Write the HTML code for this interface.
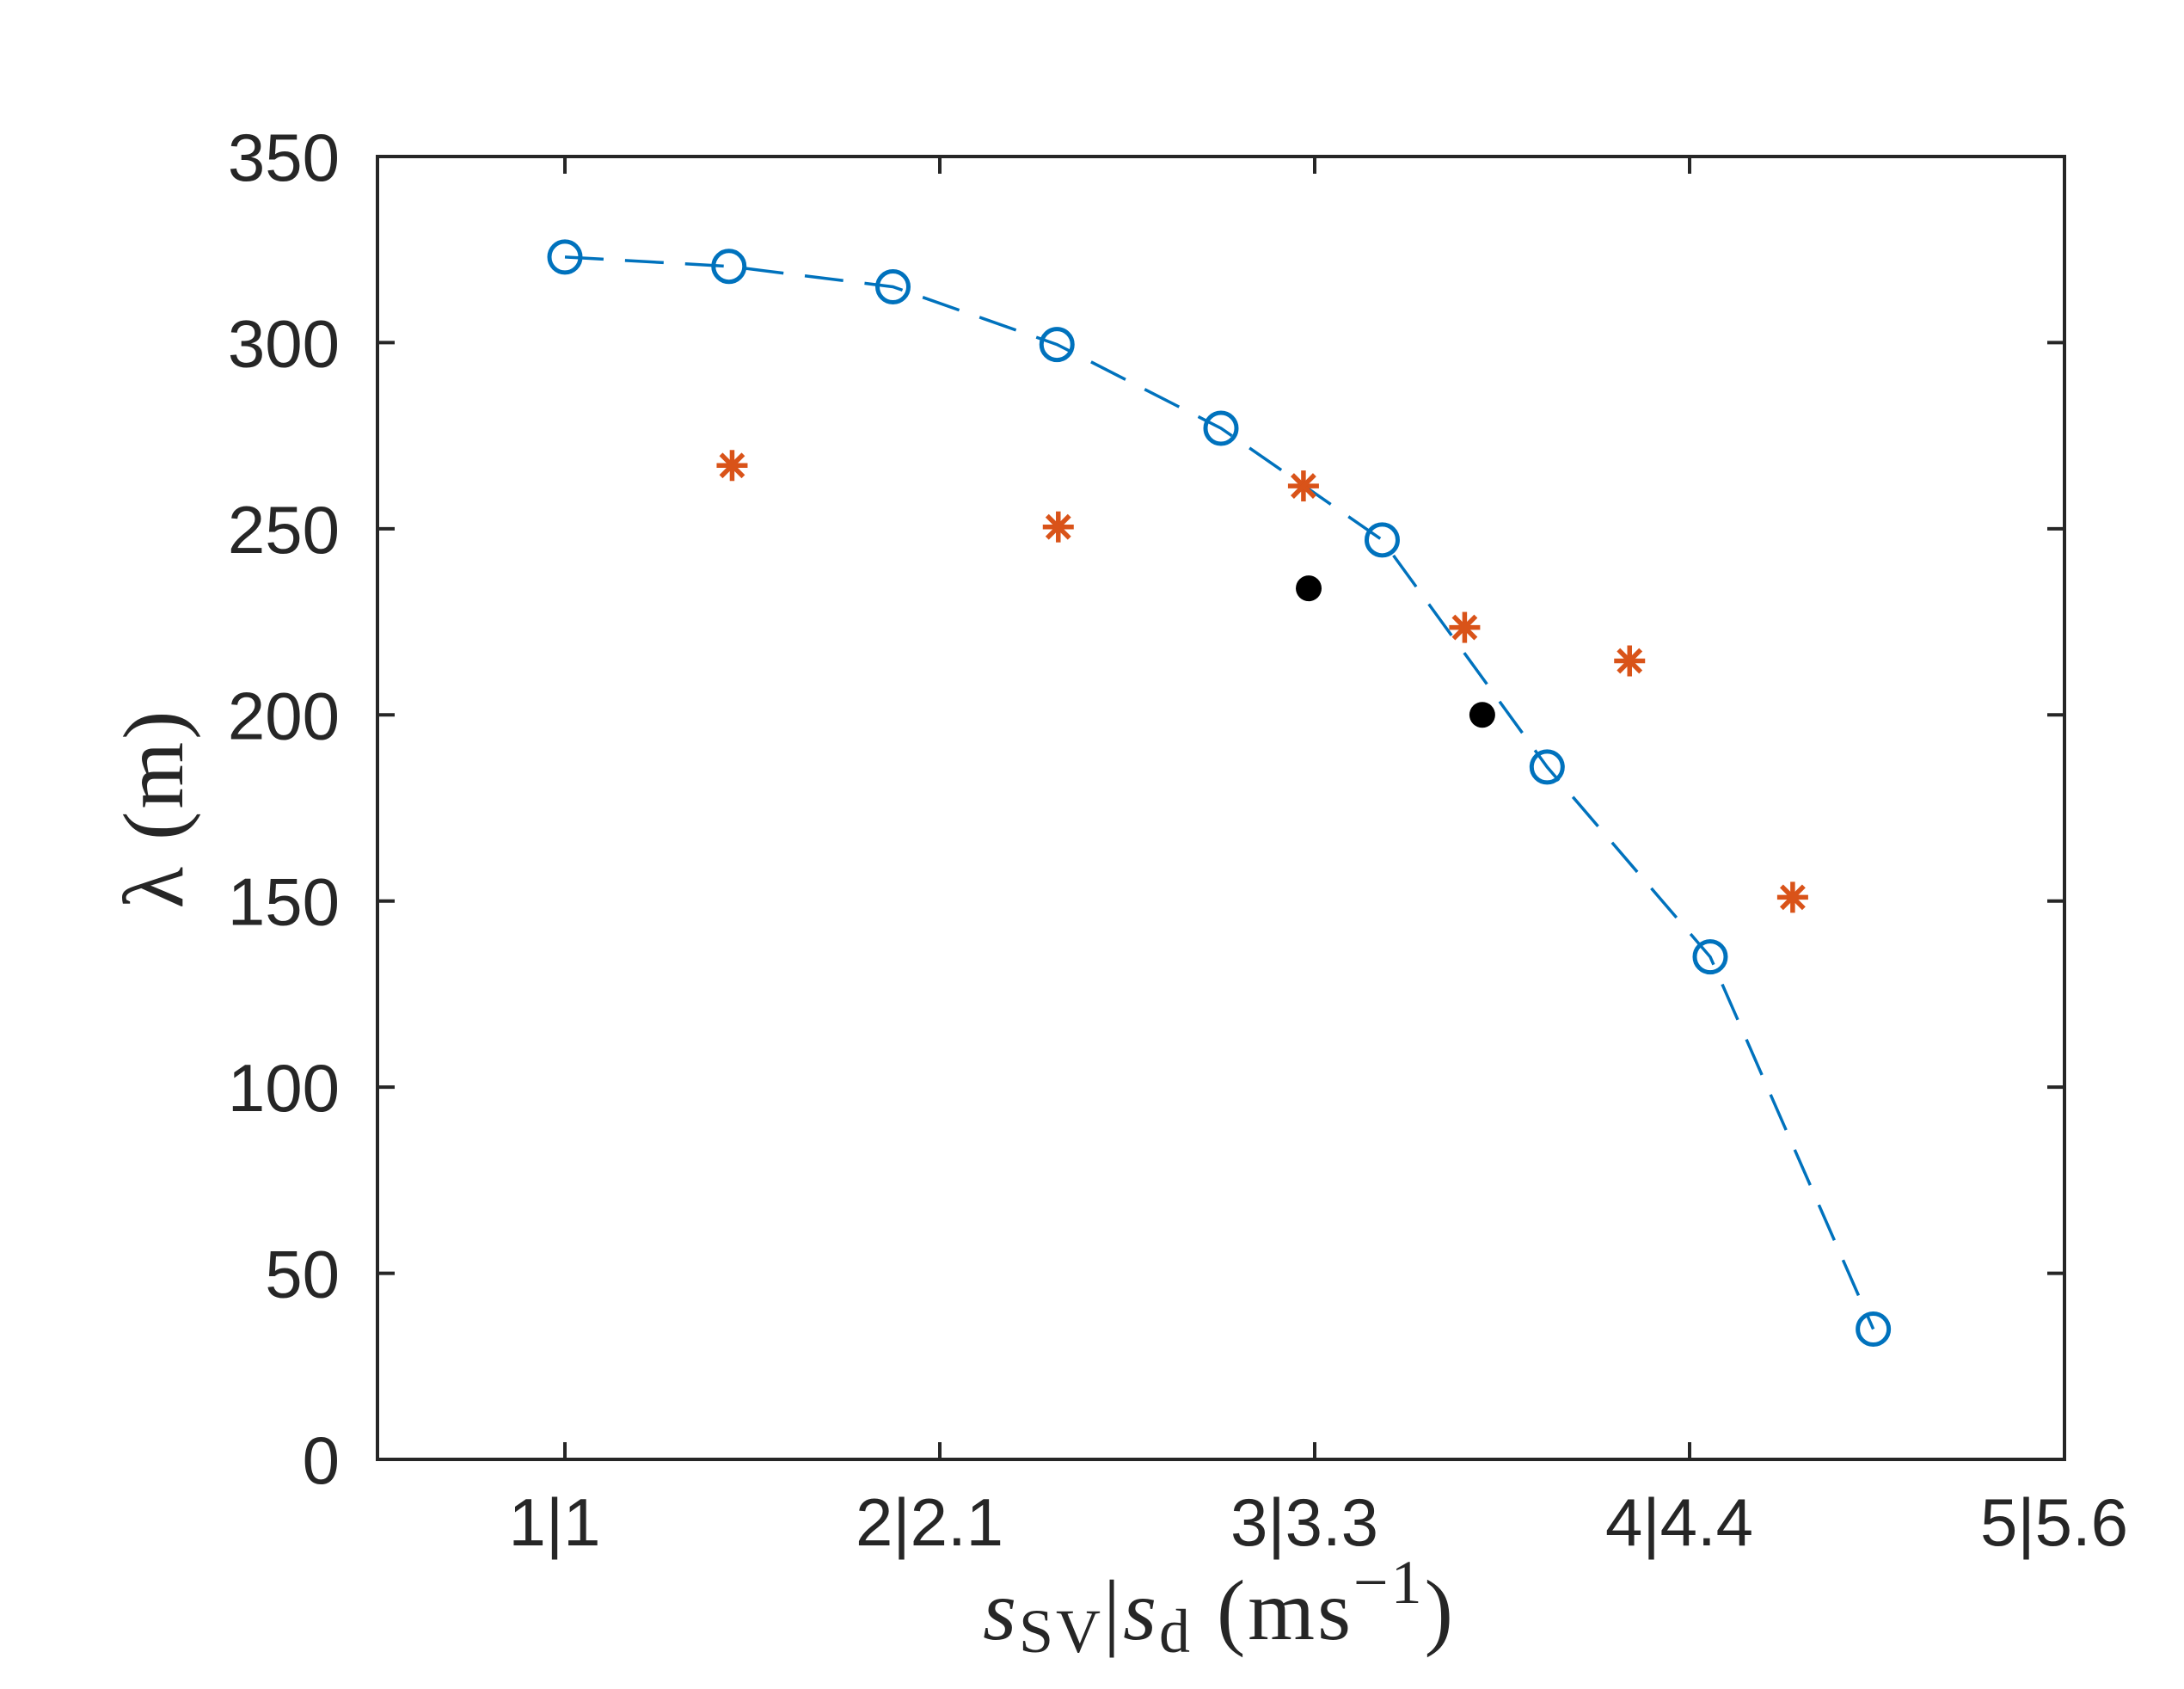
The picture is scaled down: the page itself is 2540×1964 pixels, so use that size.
<!DOCTYPE html>
<html><head><meta charset="utf-8"><style>
html,body{margin:0;padding:0;background:#fff;}
svg{display:block;}
</style></head><body>
<svg id="chart" width="2540" height="1964" xmlns="http://www.w3.org/2000/svg">
<rect x="0" y="0" width="2540" height="1964" fill="#fff"/>
<g id="grid"></g>
<g id="marks"></g>
<rect x="439" y="182" width="1962" height="1515" fill="none" stroke="#262626" stroke-width="4"/>
<text x="1418" y="1906" text-anchor="middle" font-family="'Liberation Serif', serif" font-size="100" letter-spacing="3" fill="#262626"><tspan font-style="italic">s</tspan><tspan font-size="72" dy="15">SV</tspan><tspan dy="-15">|</tspan><tspan font-style="italic">s</tspan><tspan font-size="72" dy="15">d</tspan><tspan dy="-15">  (ms</tspan><tspan font-size="72" dy="-42">−1</tspan><tspan dy="42">)</tspan></text>
<text transform="translate(212,940) rotate(-90)" text-anchor="middle" font-family="'Liberation Serif', serif" font-size="100" letter-spacing="3" fill="#262626">λ  (m)</text>
<script>
const xTicks = [1, 2, 3, 4, 5];
const xTickLabels = ["1|1", "2|2.1", "3|3.3", "4|4.4", "5|5.6"];
const yTicks = [0, 50, 100, 150, 200, 250, 300, 350];
const lineX = [1, 1.4375, 1.875, 2.3125, 2.75, 3.18, 3.62, 4.055, 4.49];
const lineY = [323, 320.5, 315, 299.5, 277, 247, 186, 135, 35];
const starX = [1.446, 2.316, 2.97, 3.40, 3.84, 4.275];
const starY = [267, 250.5, 261.5, 223.5, 214.5, 151];
const dotX = [2.984, 3.447];
const dotY = [234, 200];

const L = 439, R = 2401, T = 182, B = 1697;
const xMin = 0.5, xMax = 5, yMin = 0, yMax = 350;
function sx(v){ return L + (v - xMin) / (xMax - xMin) * (R - L); }
function sy(v){ return B - (v - yMin) / (yMax - yMin) * (B - T); }
const NS = "http://www.w3.org/2000/svg";
function mk(tag, attrs, parent){
  const e = document.createElementNS(NS, tag);
  for (const k in attrs) e.setAttribute(k, attrs[k]);
  parent.appendChild(e);
  return e;
}
const axes = document.getElementById('grid');
const marks = document.getElementById('marks');

xTicks.forEach((t, i) => {
  const x = sx(t);
  const a = mk('line', {x1:x, x2:x, y1:B, y2:B-20, stroke:'#262626', 'stroke-width':4}, axes);
  
  
  const b = mk('line', {x1:x, x2:x, y1:T, y2:T+20, stroke:'#262626', 'stroke-width':4}, axes);
  
  
  const tx = mk('text', {x:x - 12, y:1797, 'text-anchor':'middle', 'font-family':"'Liberation Sans', sans-serif", 'font-size':78, fill:'#262626'}, axes);
  tx.textContent = xTickLabels[i];
  
  
});
yTicks.forEach((t) => {
  const y = sy(t);
  const a = mk('line', {x1:L, x2:L+20, y1:y, y2:y, stroke:'#262626', 'stroke-width':4}, axes);
  
  
  const b = mk('line', {x1:R, x2:R-20, y1:y, y2:y, stroke:'#262626', 'stroke-width':4}, axes);
  
  
  const tx = mk('text', {x:395, y:y + 28, 'text-anchor':'end', 'font-family':"'Liberation Sans', sans-serif", 'font-size':78, fill:'#262626'}, axes);
  tx.textContent = String(t);
  
  
});

const pts = lineX.map((v, i) => sx(v) + ',' + sy(lineY[i])).join(' ');
const pl = mk('polyline', {points:pts, fill:'none', stroke:'#0072BD', 'stroke-width':3.5, 'stroke-dasharray':'45 25'}, marks);


lineX.forEach((v, i) => {
  const c = mk('circle', {cx:sx(v), cy:sy(lineY[i]), r:18, fill:'none', stroke:'#0072BD', 'stroke-width':5}, marks);
  
  
});
starX.forEach((v, i) => {
  const cx = sx(v), cy = sy(starY[i]), r = 18;
  const g = mk('g', {stroke:'#D95319', 'stroke-width':5.5}, marks);
  
  
  mk('line', {x1:cx-r, x2:cx+r, y1:cy, y2:cy}, g);
  mk('line', {x1:cx, x2:cx, y1:cy-r, y2:cy+r}, g);
  const d = r * 0.72;
  mk('line', {x1:cx-d, x2:cx+d, y1:cy-d, y2:cy+d}, g);
  mk('line', {x1:cx-d, x2:cx+d, y1:cy+d, y2:cy-d}, g);
});
dotX.forEach((v, i) => {
  const c = mk('circle', {cx:sx(v), cy:sy(dotY[i]), r:15, fill:'#000'}, marks);
  
  
});
</script>
</svg>
</body></html>
